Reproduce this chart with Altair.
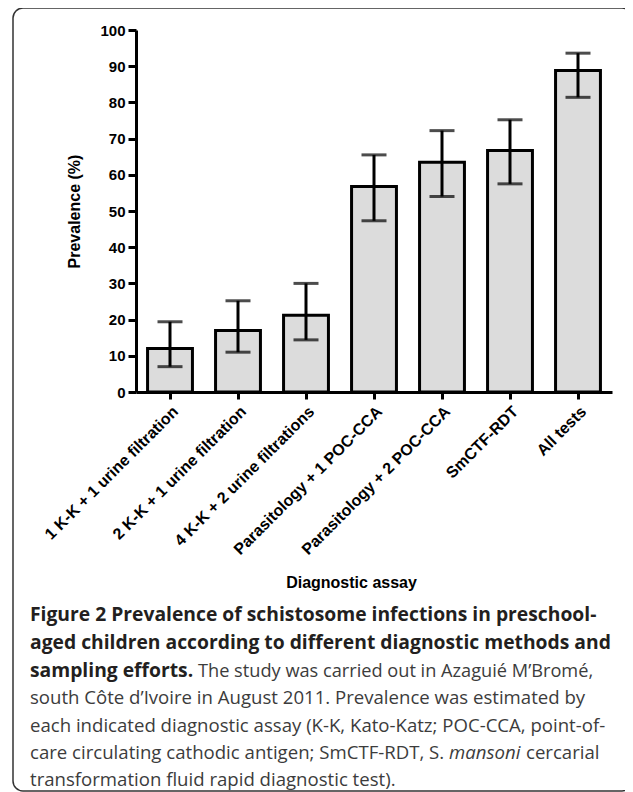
import altair as alt
import pandas as pd

# ---- data ----
categories = [
    "1 K-K + 1 urine filtration",
    "2 K-K + 1 urine filtration",
    "4 K-K + 2 urine filtrations",
    "Parasitology + 1 POC-CCA",
    "Parasitology + 2 POC-CCA",
    "SmCTF-RDT",
    "All tests",
]
prevalence = [12.0, 17.0, 21.2, 56.8, 63.5, 66.7, 88.8]
ci_lower = [7.0, 11.0, 14.4, 47.3, 54.0, 57.5, 81.4]
ci_upper = [19.4, 25.2, 30.0, 65.5, 72.2, 75.2, 93.6]
y_ticks = [0, 10, 20, 30, 40, 50, 60, 70, 80, 90, 100]

x_title = "Diagnostic assay"
y_title = "Prevalence (%)"

caption_bold = [
    "Figure 2 Prevalence of schistosome infections in preschool-",
    "aged children according to different diagnostic methods and",
    "sampling efforts.",
]
caption_regular = [
    "The study was carried out in Azaguié M\u2019Bromé,",
    "south Côte d\u2019Ivoire in August 2011. Prevalence was estimated by",
    "each indicated diagnostic assay (K-K, Kato-Katz; POC-CCA, point-of-",
    "care circulating cathodic antigen; SmCTF-RDT, S.",
    "mansoni",
    "cercarial",
    "transformation fluid rapid diagnostic test).",
]

df = pd.DataFrame({"assay": categories, "prev": prevalence, "lo": ci_lower, "hi": ci_upper})

W, H = 476, 362
FONT = "Liberation Sans"
CAP_FONT = "Open Sans"

x_enc = alt.X(
    "assay:N",
    sort=categories,
    scale=alt.Scale(paddingInner=0.34, paddingOuter=0.17),
    axis=alt.Axis(
        title=x_title,
        labelAngle=315,
        labelFont=FONT,
        labelFontSize=16,
        labelFontWeight="bold",
        labelColor="black",
        labelPadding=4,
        labelLimit=300,
        tickSize=7,
        tickWidth=3,
        tickColor="black",
        domainWidth=3,
        domainColor="black",
        titleFont=FONT,
        titleFontSize=16,
        titleFontWeight="bold",
        titleColor="black",
        titleX=215,
        titleY=190,
        titleAlign="center",
        titleBaseline="middle",
    ),
)

y_scale = alt.Scale(domain=[0, 100], nice=False)
y_axis = alt.Axis(
    title=y_title,
    values=y_ticks,
    grid=False,
    labelFont=FONT,
    labelFontSize=15,
    labelFontWeight="bold",
    labelColor="black",
    labelPadding=3,
    labelOverlap=False,
    tickSize=8,
    tickWidth=3,
    tickColor="black",
    domainWidth=3,
    domainColor="black",
    titleFont=FONT,
    titleFontSize=16,
    titleFontWeight="bold",
    titleColor="black",
    titleX=-62,
    titleY=181,
    titleAngle=270,
    titleAlign="center",
    titleBaseline="middle",
)

base = alt.Chart(df)

bars = base.mark_bar(fill="#dcdcdc", stroke="black", strokeWidth=3).encode(
    x=x_enc, y=alt.Y("prev:Q", scale=y_scale, axis=y_axis)
)
whisk = base.mark_rule(color="black", strokeWidth=3).encode(
    x=x_enc, y=alt.Y("lo:Q", scale=y_scale, axis=y_axis), y2="hi:Q"
)
cap_hi = base.mark_tick(color="black", thickness=3, size=25).encode(
    x=x_enc, y=alt.Y("hi:Q", scale=y_scale, axis=y_axis)
)
cap_lo = base.mark_tick(color="black", thickness=3, size=25).encode(
    x=x_enc, y=alt.Y("lo:Q", scale=y_scale, axis=y_axis)
)

one = pd.DataFrame({"k": [0]})

frame = alt.Chart(one).mark_rect(
    fillOpacity=0, stroke="#333333", strokeWidth=1.5, cornerRadius=10
).encode(
    x=alt.value(-123), x2=alt.value(496), y=alt.value(-22), y2=alt.value(761)
)


def cap(text, xpos, ypos, size, weight="normal", style="normal", color="#3c3c3c"):
    return alt.Chart(pd.DataFrame({"t": [text]})).mark_text(
        align="left",
        baseline="alphabetic",
        font=CAP_FONT,
        fontSize=size,
        fontWeight=weight,
        fontStyle=style,
        color=color,
    ).encode(x=alt.value(xpos), y=alt.value(ypos), text="t:N")


X0 = -106
baselines = [591, 619, 647, 674, 702, 729, 756]
BOLD = "#231f20"
BS = 19.3
RS = 18.6

caps = [
    cap(caption_bold[0], X0, baselines[0], BS, "bold", color=BOLD),
    cap(caption_bold[1], X0, baselines[1], BS, "bold", color=BOLD),
    cap(caption_bold[2], X0, baselines[2], BS, "bold", color=BOLD),
    cap(caption_regular[0], 62, baselines[2], 18.2),
    cap(caption_regular[1], X0, baselines[3], RS),
    cap(caption_regular[2], X0, baselines[4], RS),
    cap(caption_regular[3], X0, baselines[5], RS),
    cap(caption_regular[4], 313, baselines[5], RS, style="italic"),
    cap(caption_regular[5], 390, baselines[5], RS),
    cap(caption_regular[6], X0, baselines[6], RS),
]

chart = alt.layer(bars, whisk, cap_hi, cap_lo, frame, *caps).properties(
    width=W,
    height=H,
    autosize=alt.AutoSizeParams(type="none"),
    padding={"left": 128, "top": 22, "right": 13, "bottom": 400},
).configure_view(strokeWidth=0)

chart.save("out.html", embed_options={"renderer": "svg", "actions": False})
